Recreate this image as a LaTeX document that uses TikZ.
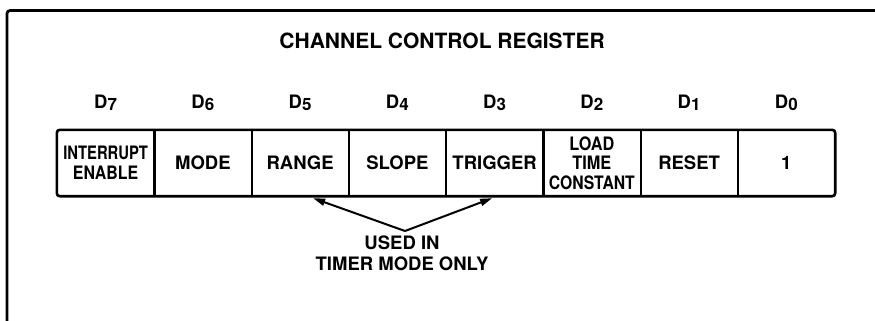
\documentclass[tikz,border=0pt]{standalone}
\usepackage{fontspec}
\usepackage{graphicx}
\setmainfont{TeX Gyre Heros}
\usetikzlibrary{arrows.meta}
\begin{document}
\begin{tikzpicture}[x=1pt,y=-1pt,
  cell/.style={minimum width=97.25pt,minimum height=66pt,inner sep=0pt,align=center,
    font=\fontsize{18.5}{20}\selectfont\bfseries},
  bitlabel/.style={inner sep=0pt,font=\fontsize{18.5}{20}\selectfont\bfseries},
  frameline/.style={line width=2.7pt},
  boxline/.style={line width=2.6pt},
  divline/.style={line width=2.3pt},
  pointer/.style={line width=2pt,-{Triangle[length=12pt,width=7pt]}},
  note/.style={inner sep=0pt,align=center,font=\fontsize{18.5}{21}\selectfont\bfseries}]
\fill[white] (0,0) rectangle (875,321);
\useasboundingbox (0,0) rectangle (875,321);
% frame
\draw[frameline,rounded corners=3pt] (7,330) -- (7,10.5) -- (890,10.5);
% title
\node[inner sep=0pt,font=\fontsize{21}{24}\selectfont\bfseries] (title) at (442,41) {CHANNEL CONTROL REGISTER};
% cells
\node[cell] (c7) at (105.625,163) {\scalebox{0.8}[1]{INTERRUPT}\\\scalebox{0.86}[1]{ENABLE}};
\node[cell] (c6) at (202.875,163) {MODE};
\node[cell] (c5) at (300.125,163) {RANGE};
\node[cell] (c4) at (397.375,163) {SLOPE};
\node[cell] (c3) at (494.625,163) {TRIGGER};
\node[cell,font=\fontsize{18.5}{19.5}\selectfont\bfseries] (c2) at (591.875,163) {\scalebox{0.88}[1]{LOAD}\\\scalebox{0.88}[1]{TIME}\\\scalebox{0.85}[1]{CONSTANT}};
\node[cell] (c1) at (689.125,163) {RESET};
\node[cell] (c0) at (786.375,163) {1};
% outline and dividers
\draw[boxline,rounded corners=3pt] (c7.north west) rectangle (c0.south east);
\foreach \a in {7,6,5,4,3,2,1}{
  \draw[divline] (c\a.north east) -- (c\a.south east);
}
% bit labels
\foreach \a in {7,6,5,4,3,2,1,0}{
  \node[bitlabel] (d\a) at ([yshift=60pt]c\a.center) {D\kern0.3pt\raisebox{-2.5pt}{\fontsize{17}{16}\selectfont\a}};
}
% note and arrows
\node[note] (usednote) at (402,253.5) {USED IN\\TIMER MODE ONLY};
\coordinate (junction) at (405,231);
\coordinate (tipL) at ([xshift=13pt,yshift=-2pt]c5.south);
\coordinate (tipR) at ([xshift=-2.5pt,yshift=-2pt]c3.south);
\draw[pointer] (junction) -- (tipL);
\draw[pointer] (junction) -- (tipR);
\end{tikzpicture}
\end{document}
